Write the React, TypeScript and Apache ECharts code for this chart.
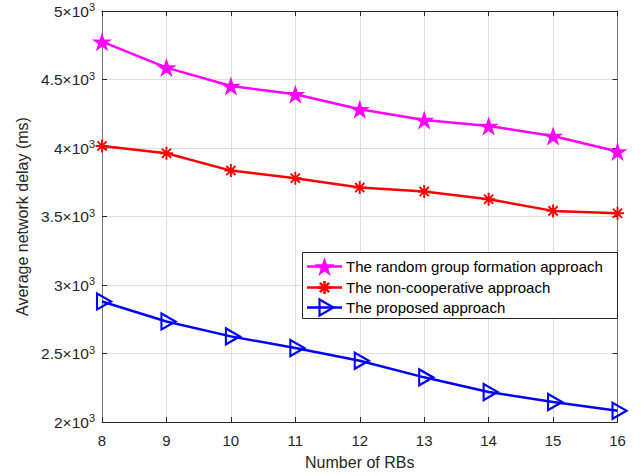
import React, { useEffect, useRef } from 'react';
import * as echarts from 'echarts';

const rbCounts = [8, 9, 10, 11, 12, 13, 14, 15, 16];
const randomGroupDelay = [4776, 4587, 4453, 4392, 4283, 4205, 4161, 4088, 3974];
const nonCooperativeDelay = [4015, 3962, 3835, 3780, 3711, 3682, 3626, 3541, 3524];
const proposedDelay = [2880, 2734, 2625, 2540, 2447, 2326, 2219, 2146, 2082];
const seriesNames = [
  'The random group formation approach',
  'The non-cooperative approach',
  'The proposed approach',
];
const seriesColors = ['#ff00ff', '#ff0000', '#0000ff'];
const yMin = 2000;
const yMax = 5000;
const yStep = 500;
const xMin = 8;
const xMax = 16;

function starPoints(R: number): number[][] {
  const pts: number[][] = [];
  for (let k = 0; k < 10; k++) {
    const r = k % 2 === 0 ? R : R * 0.382;
    const a = ((-90 + 36 * k) * Math.PI) / 180;
    pts.push([r * Math.cos(a), r * Math.sin(a)]);
  }
  return pts;
}

function starPath(): string {
  const pts = starPoints(10);
  return 'path://M' + pts.map((p) => p[0].toFixed(3) + ',' + p[1].toFixed(3)).join(' L') + ' Z';
}

function asteriskPath(): string {
  const L = 10;
  const t = 1.45;
  let d = '';
  for (const deg of [0, 45, 90, 135]) {
    const a = (deg * Math.PI) / 180;
    const dx = Math.cos(a);
    const dy = Math.sin(a);
    const nx = -dy;
    const ny = dx;
    const p = [
      [L * dx + t * nx, L * dy + t * ny],
      [L * dx - t * nx, L * dy - t * ny],
      [-L * dx - t * nx, -L * dy - t * ny],
      [-L * dx + t * nx, -L * dy + t * ny],
    ];
    d += 'M' + p.map((q) => q[0].toFixed(3) + ',' + q[1].toFixed(3)).join(' L') + ' Z ';
  }
  return 'path://' + d;
}

const trianglePath = 'path://M0,0 L10,6.5 L0,13 Z';

const FONT = '"Liberation Sans", Arial, Helvetica, sans-serif';
const TXT = '#262626';

function legendGraphic() {
  const boxX = 302;
  const boxY = 252;
  const boxW = 315;
  const boxH = 66;
  const rowY = [266.5, 287.5, 307.5];
  const lineX0 = 307;
  const lineX1 = 342;
  const mx = (lineX0 + lineX1) / 2;
  const els: any[] = [
    {
      type: 'rect',
      shape: { x: boxX + 0.5, y: boxY + 0.5, width: boxW, height: boxH },
      style: { fill: '#ffffff', stroke: '#262626', lineWidth: 1 },
      z: 100,
    },
  ];
  seriesNames.forEach((name, i) => {
    const y = rowY[i];
    const c = seriesColors[i];
    els.push({
      type: 'line',
      shape: { x1: lineX0, y1: y, x2: lineX1, y2: y },
      style: { stroke: c, lineWidth: 2.5 },
      z: 101,
    });
    els.push({
      type: 'text',
      x: 346,
      y: y,
      style: { text: name, fontSize: 15, fontFamily: FONT, fill: '#000', verticalAlign: 'middle', align: 'left' },
      z: 101,
    });
  });
  els.push({
    type: 'polygon',
    x: mx,
    y: rowY[0] + 1,
    shape: { points: starPoints(10.5) },
    style: { fill: seriesColors[0] },
    z: 102,
  });
  [0, 45, 90, 135].forEach((deg) => {
    const a = (deg * Math.PI) / 180;
    const L = 6.5;
    els.push({
      type: 'line',
      shape: {
        x1: mx - L * Math.cos(a),
        y1: rowY[1] - L * Math.sin(a),
        x2: mx + L * Math.cos(a),
        y2: rowY[1] + L * Math.sin(a),
      },
      style: { stroke: seriesColors[1], lineWidth: 2.6 },
      z: 102,
    });
  });
  els.push({
    type: 'polygon',
    x: mx + 2,
    y: rowY[2],
    shape: { points: [[-7, -8], [7, 0], [-7, 8]] },
    style: { fill: 'none', stroke: seriesColors[2], lineWidth: 2.2 },
    z: 102,
  });
  return els;
}

export default function App() {
  const ref = useRef<HTMLDivElement>(null);

  useEffect(() => {
    if (!ref.current) return;
    const chart = echarts.init(ref.current, undefined, { renderer: 'svg' });
    const pairs = (ys: number[]) => rbCounts.map((x, i) => [x, ys[i]]);

    const axisLineV = { show: true, lineStyle: { color: '#7a7a7a', width: 1 } };
    const axisLineH = { show: true, lineStyle: { color: '#262626', width: 1 } };

    chart.setOption({
      animation: false,
      backgroundColor: '#ffffff',
      textStyle: { fontFamily: FONT },
      grid: { left: 102, right: 23.5, top: 11, bottom: 54, containLabel: false },
      xAxis: [
        {
          type: 'value',
          min: xMin,
          max: xMax,
          interval: 1,
          name: 'Number of RBs',
          nameLocation: 'middle',
          nameGap: 32,
          nameTextStyle: { fontSize: 16, color: TXT, fontFamily: FONT },
          axisLine: axisLineH,
          axisTick: { show: true, inside: true, length: 5, lineStyle: { color: '#262626' } },
          axisLabel: { fontSize: 15, color: TXT, margin: 11, fontFamily: FONT },
          splitLine: { show: true, lineStyle: { color: '#dfdfdf', width: 1 } },
        },
        {
          type: 'value',
          position: 'top',
          min: xMin,
          max: xMax,
          interval: 1,
          axisLine: axisLineH,
          axisTick: { show: true, inside: true, length: 5, lineStyle: { color: '#262626' } },
          axisLabel: { show: false },
          splitLine: { show: false },
        },
      ],
      yAxis: [
        {
          type: 'value',
          min: yMin,
          max: yMax,
          interval: yStep,
          name: 'Average network delay (ms)',
          nameLocation: 'middle',
          nameGap: 68,
          nameTextStyle: { fontSize: 16, color: TXT, fontFamily: FONT },
          axisLine: axisLineV,
          axisTick: { show: true, inside: true, length: 5, lineStyle: { color: '#262626' } },
          axisLabel: {
            margin: 7,
            color: TXT,
            formatter: (v: number) => `{a|${v / 1000}×10}{b|3}`,
            rich: {
              a: { fontSize: 15.5, color: TXT, fontFamily: FONT, lineHeight: 19 },
              b: { fontSize: 11, color: TXT, fontFamily: FONT, verticalAlign: 'top', lineHeight: 11 },
            },
          },
          splitLine: { show: true, lineStyle: { color: '#dfdfdf', width: 1 } },
        },
        {
          type: 'value',
          position: 'right',
          min: yMin,
          max: yMax,
          interval: yStep,
          axisLine: axisLineV,
          axisTick: { show: true, inside: true, length: 5, lineStyle: { color: '#262626' } },
          axisLabel: { show: false },
          splitLine: { show: false },
        },
      ],
      graphic: legendGraphic(),
      series: [
        {
          name: seriesNames[0],
          type: 'line',
          data: pairs(randomGroupDelay),
          symbol: starPath(),
          symbolSize: [20, 19],
          lineStyle: { color: seriesColors[0], width: 2.5 },
          itemStyle: { color: seriesColors[0] },
          z: 3,
        },
        {
          name: seriesNames[1],
          type: 'line',
          data: pairs(nonCooperativeDelay),
          symbol: asteriskPath(),
          symbolSize: 13,
          lineStyle: { color: seriesColors[1], width: 2.5 },
          itemStyle: { color: seriesColors[1] },
          z: 3,
        },
        {
          name: seriesNames[2],
          type: 'line',
          data: pairs(proposedDelay),
          symbol: trianglePath,
          symbolSize: [14, 16],
          symbolOffset: [2, 0],
          lineStyle: { color: seriesColors[2], width: 2.5 },
          itemStyle: { color: 'rgba(0,0,0,0)', borderColor: seriesColors[2], borderWidth: 2.2 },
          z: 3,
        },
      ],
    });
    return () => chart.dispose();
  }, []);

  return <div ref={ref} style={{ width: 641, height: 476, position: 'absolute', left: 0, top: 0 }} />;
}
